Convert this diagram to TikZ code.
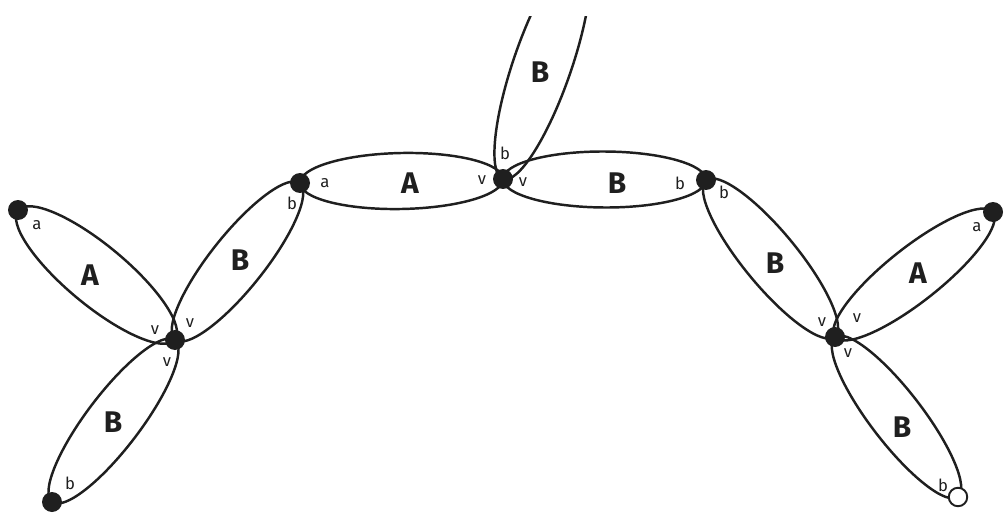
\documentclass[tikz,border=0pt]{standalone}
\usepackage{fontspec}
\setmainfont{Fira Sans}
\setsansfont{Fira Sans}
\usetikzlibrary{backgrounds,calc,shapes.geometric}
\newcommand\lobe[3][1.08cm]{\path let \p1=($(#3.center)-(#2.center)$), \n1={veclen(\x1,\y1)} in (#2.center) -- (#3.center) node[midway, sloped, lobe, minimum width=\n1, minimum height=#1] {};}
\begin{document}
\begin{tikzpicture}[x=0.02cm,y=-0.02cm,
  lobe/.style={ellipse, draw=black!88, line width=1.4pt, inner sep=0pt, outer sep=0pt},
  dot/.style={circle, fill=black!88, inner sep=0pt, minimum size=0.4cm},
  odot/.style={circle, draw=black!88, fill=white, line width=1.1pt, inner sep=0pt, minimum size=0.37cm},
  big/.style={font=\sffamily\bfseries\fontsize{17}{17}\selectfont, text=black!88},
  small/.style={font=\sffamily\fontsize{9.5}{9.5}\selectfont, text=black!88}]
\useasboundingbox (0,0) rectangle (1004,517);
\node[dot] (p1) at (18,210) {};
\node[dot] (p2) at (175,340) {};
\node[dot] (p3) at (52,502) {};
\node[dot] (p4) at (300,183) {};
\node[dot] (p5) at (503,179) {};
\node[dot] (p6) at (706,180) {};
\node[dot] (p7) at (993,212) {};
\node[dot] (p8) at (835,337) {};
\node[odot] (p9) at (958,497) {};
\coordinate (top) at (582,-50);
\begin{pgfonlayer}{background}
\lobe[1.2cm]{p1}{p2}
\lobe{p3}{p2}
\lobe{p2}{p4}
\lobe[1.12cm]{p4}{p5}
\lobe[1.12cm]{p5}{p6}
\lobe{p6}{p8}
\lobe{p8}{p7}
\lobe[1.04cm]{p8}{p9}
\begin{scope}
\clip (0,17) rectangle (1004,517);
\lobe[1.16cm]{p5}{top}
\end{scope}
\end{pgfonlayer}
% big labels
\node[big] (l1) at (90,275) {A};
\node[big] (l2) at (113,422) {B};
\node[big] (l3) at (240,260) {B};
\node[big] (l4) at (410,183) {A};
\node[big] (l5) at (540,72) {B};
\node[big] (l6) at (617,183) {B};
\node[big] (l7) at (775,263) {B};
\node[big] (l8) at (918,273) {A};
\node[big] (l9) at (902,427) {B};
% small labels
\node[small] (s1) at (37,225) {a};
\node[small] (s2) at (155,330) {v};
\node[small] (s3) at (190,323) {v};
\node[small] (s4) at (167,362) {v};
\node[small] (s5) at (70,483) {b};
\node[small] (s6) at (292,203) {b};
\node[small] (s7) at (325,183) {a};
\node[small] (s8) at (482,180) {v};
\node[small] (s9) at (505,153) {b};
\node[small] (s10) at (523,182) {v};
\node[small] (s11) at (680,183) {b};
\node[small] (s12) at (724,192) {b};
\node[small] (s13) at (822,322) {v};
\node[small] (s14) at (857,318) {v};
\node[small] (s15) at (977,227) {a};
\node[small] (s16) at (848,353) {v};
\node[small] (s17) at (943,485) {b};
\end{tikzpicture}
\end{document}
